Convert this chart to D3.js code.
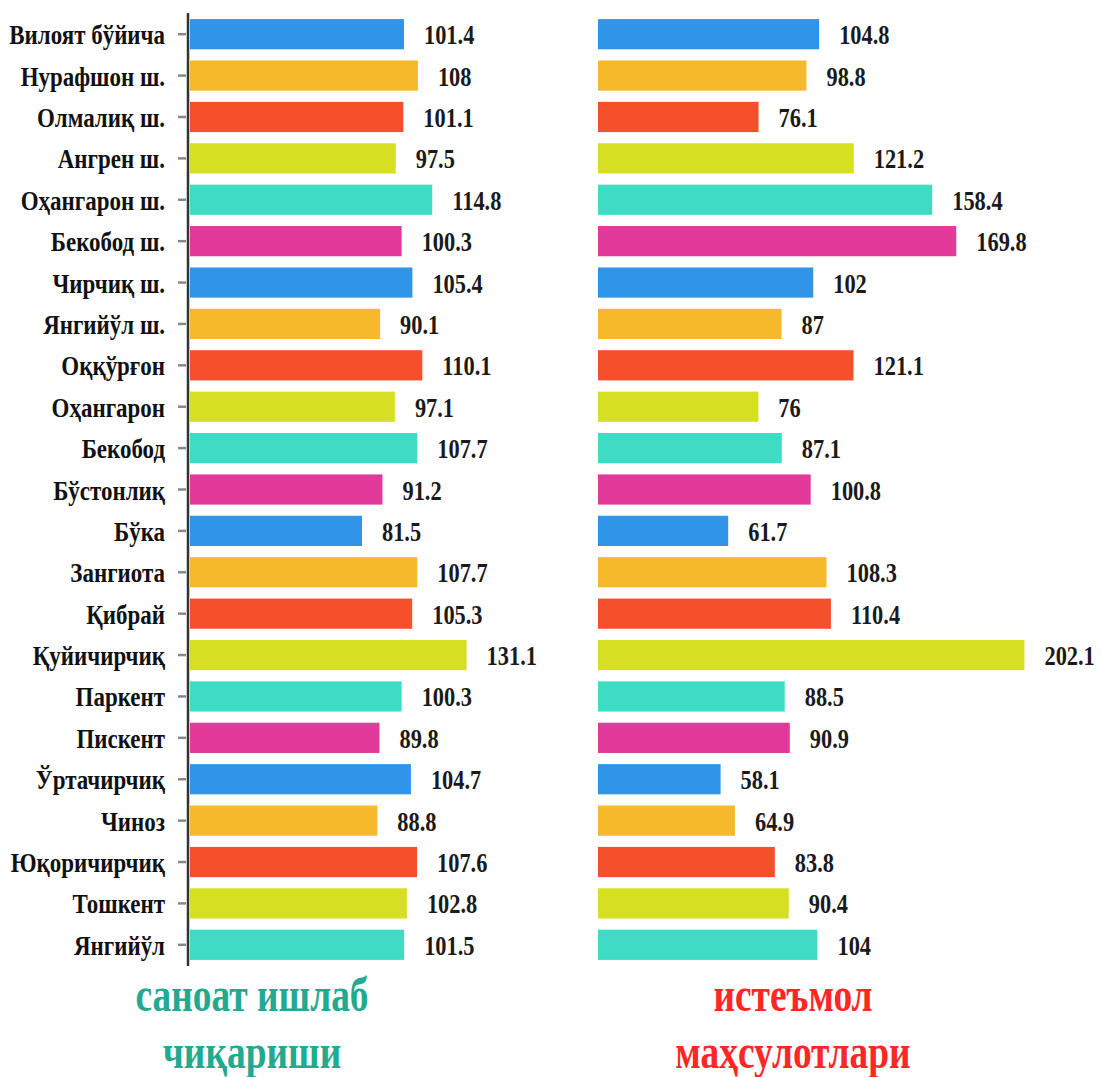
<!DOCTYPE html>
<html>
<head>
<meta charset="utf-8">
<script src="https://cdn.jsdelivr.net/npm/d3@7"></script>
<style>
  body { margin: 0; background: #fff; }
  text { font-family: "Liberation Serif", "DejaVu Serif", serif; font-weight: bold; }
</style>
</head>
<body>
<div class="canva"></div>
<script>
const categories = [
	"Вилоят бўйича", "Нурафшон ш.", "Олмалиқ ш.", "Ангрен ш.", "Оҳангарон ш.",
	"Бекобод ш.", "Чирчиқ ш.", "Янгийўл ш.", "Оққўрғон", "Оҳангарон",
	"Бекобод", "Бўстонлиқ", "Бўка", "Зангиота", "Қибрай", "Қуйичирчиқ",
	"Паркент", "Пискент", "Ўртачирчиқ", "Чиноз", "Юқоричирчиқ", "Тошкент", "Янгийўл"
];
const industry = [
	101.4, 108, 101.1, 97.5, 114.8, 100.3, 105.4, 90.1, 110.1, 97.1,
	107.7, 91.2, 81.5, 107.7, 105.3, 131.1, 100.3, 89.8, 104.7, 88.8,
	107.6, 102.8, 101.5
];
const consumer = [
	104.8, 98.8, 76.1, 121.2, 158.4, 169.8, 102, 87, 121.1, 76,
	87.1, 100.8, 61.7, 108.3, 110.4, 202.1, 88.5, 90.9, 58.1, 64.9,
	83.8, 90.4, 104
];
const palette = ["#3094e9", "#f6b92b", "#f5502b", "#d6df22", "#3edcc4", "#e13a9a"];

const svg = d3.select(".canva")
	.append("svg")
	.attr("width", 1102)
	.attr("height", 1077);

const y = d3.scaleBand()
	.domain(categories)
	.range([13.5, 965.5])
	.paddingInner(0.27)
	.paddingOuter(0.135);

// same px per unit on both panels
const xLeft = d3.scaleLinear().domain([0, 100]).range([190, 401]);
const xRight = d3.scaleLinear().domain([0, 100]).range([598, 809]);

const color = (d, i) => palette[i % palette.length];

function panel(values, x) {
	const g = svg.append("g");
	g.selectAll("rect")
		.data(values)
		.enter()
		.append("rect")
		.attr("x", x(0))
		.attr("y", (d, i) => y(categories[i]))
		.attr("width", (d) => x(d) - x(0))
		.attr("height", y.bandwidth())
		.attr("fill", color);

	g.selectAll("text")
		.data(values)
		.enter()
		.append("text")
		.attr("transform", (d, i) =>
			"translate(" + (x(d) + 20) + "," + (y(categories[i]) + y.bandwidth() / 2 + 10) + ") scale(0.8,1)")
		.attr("font-size", 28)
		.attr("fill", "#1a1a1a")
		.text((d) => d);
}

panel(industry, xLeft);
panel(consumer, xRight);

//axis on the left panel
const axis = svg.append("g")
	.attr("transform", "translate(188,0)")
	.call(d3.axisLeft(y).tickSize(10).tickSizeOuter(0));

axis.select(".domain")
	.attr("stroke", "#333")
	.attr("stroke-width", 2.5)
	.attr("d", "M0,13V966");
axis.selectAll(".tick line")
	.attr("stroke", "#888")
	.attr("stroke-width", 2.5)
	.attr("x1", -2);
axis.selectAll(".tick text")
	.attr("x", null)
	.attr("dy", null)
	.attr("transform", "translate(-23,10) scale(0.82,1)")
	.attr("text-anchor", "end")
	.attr("font-size", 28)
	.attr("font-family", "Liberation Serif, DejaVu Serif, serif")
	.attr("fill", "#111");

// panel titles
const titles = [
	{ lines: ["саноат ишлаб", "чиқариши"], x: 252, fill: "#22a98f" },
	{ lines: ["истеъмол", "маҳсулотлари"], x: 793, fill: "#ff2626" }
];
titles.forEach((t) => {
	t.lines.forEach((line, k) => {
		svg.append("text")
			.attr("transform", "translate(" + t.x + "," + (1011 + k * 57) + ") scale(0.78,1)")
			.attr("text-anchor", "middle")
			.attr("font-size", 48)
			.attr("fill", t.fill)
			.text(line);
	});
});
</script>
</body>
</html>
